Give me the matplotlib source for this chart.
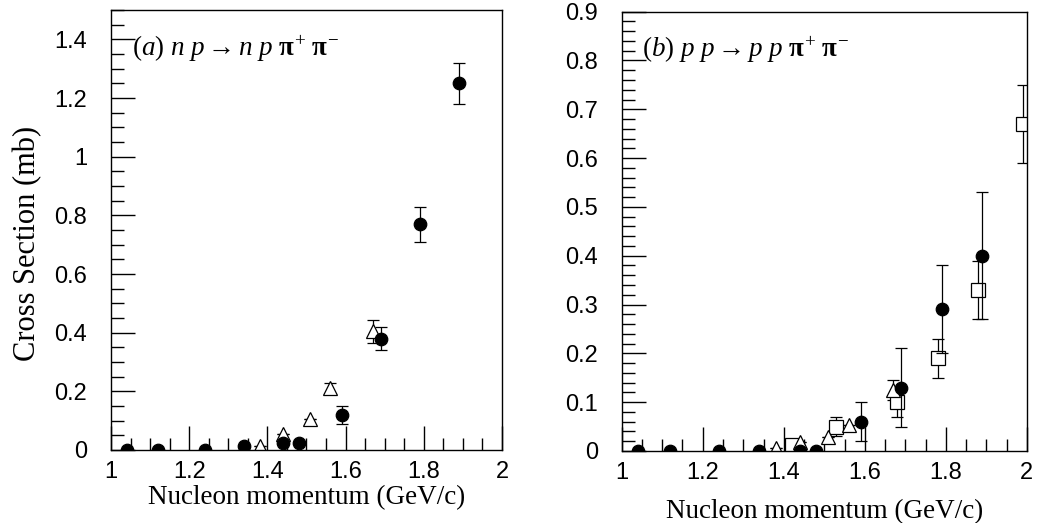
import matplotlib
matplotlib.use("Agg")
import matplotlib.pyplot as plt
from matplotlib.ticker import MultipleLocator, FuncFormatter

plt.rcParams['mathtext.fontset'] = 'custom'
plt.rcParams['mathtext.rm'] = 'Liberation Serif'
plt.rcParams['mathtext.it'] = 'Liberation Serif:italic'
plt.rcParams['mathtext.bf'] = 'Liberation Serif:bold'
plt.rcParams['font.family'] = ['Liberation Sans', 'DejaVu Sans']

# ---- panel (a): n p -> n p pi+ pi- ----
a_circ_x = [1.04, 1.12, 1.24, 1.34, 1.44, 1.48, 1.59, 1.69, 1.79, 1.89]
a_circ_y = [0.0, 0.0, 0.0, 0.013, 0.023, 0.023, 0.12, 0.38, 0.77, 1.25]
a_circ_e = [0.0, 0.0, 0.0, 0.0, 0.0, 0.0, 0.03, 0.04, 0.06, 0.07]
a_tri_x = [1.38, 1.44, 1.51, 1.56, 1.67]
a_tri_y = [0.012, 0.055, 0.105, 0.21, 0.405]
a_tri_e = [0.0, 0.0, 0.0, 0.02, 0.04]

# ---- panel (b): p p -> p p pi+ pi- ----
b_circ_x = [1.04, 1.12, 1.24, 1.34, 1.44, 1.48, 1.59, 1.69, 1.79, 1.89]
b_circ_y = [0.0, 0.0, 0.0, 0.0, 0.0, 0.0, 0.06, 0.13, 0.29, 0.40]
b_circ_e = [0.0, 0.0, 0.0, 0.0, 0.0, 0.0, 0.04, 0.08, 0.09, 0.13]
b_tri_x = [1.38, 1.44, 1.51, 1.56, 1.67]
b_tri_y = [0.006, 0.019, 0.028, 0.053, 0.125]
b_tri_e = [0.0, 0.0, 0.0, 0.0, 0.02]
b_sq_x = [1.42, 1.53, 1.68, 1.78, 1.88, 1.99]
b_sq_y = [0.012, 0.05, 0.10, 0.19, 0.33, 0.67]
b_sq_e = [0.01, 0.02, 0.03, 0.04, 0.06, 0.08]

xlabel = "Nucleon momentum (GeV/c)"
ylabel = "Cross Section (mb)"
title_a = r'$\mathit{(a)\ n\ p} \rightarrow \mathit{n\ p}\ \mathbf{\pi}^{+}\ \mathbf{\pi}^{-}$'
title_b = r'$\mathit{(b)\ p\ p} \rightarrow \mathit{p\ p}\ \mathbf{\pi}^{+}\ \mathbf{\pi}^{-}$'

fig = plt.figure(figsize=(10.51, 5.23), dpi=100)
axa = fig.add_axes([0.1056, 0.1396, 0.372, 0.841])
axb = fig.add_axes([0.5915, 0.1377, 0.3856, 0.840])

def draw(ax, x, y, e, marker, fill):
    ax.errorbar(x, y, yerr=e, fmt=marker, ms=9 if marker == 'o' else 10,
                mfc='black' if fill else 'white', mec='black', mew=0.9,
                ecolor='black', elinewidth=0.9, capsize=4, capthick=0.9,
                zorder=3 if fill else 2)

draw(axa, a_tri_x, a_tri_y, a_tri_e, '^', False)
draw(axa, a_circ_x, a_circ_y, a_circ_e, 'o', True)
draw(axb, b_sq_x, b_sq_y, b_sq_e, 's', False)
draw(axb, b_tri_x, b_tri_y, b_tri_e, '^', False)
draw(axb, b_circ_x, b_circ_y, b_circ_e, 'o', True)

fmt = FuncFormatter(lambda v, p: f"{round(v, 6):g}")
for ax, ymax, ymaj, ymin in [(axa, 1.5, 0.2, 0.05), (axb, 0.9, 0.1, 0.02)]:
    ax.set_xlim(1, 2)
    ax.set_ylim(0, ymax)
    ax.xaxis.set_major_locator(MultipleLocator(0.2))
    ax.xaxis.set_minor_locator(MultipleLocator(0.05))
    ax.yaxis.set_major_locator(MultipleLocator(ymaj))
    ax.yaxis.set_minor_locator(MultipleLocator(ymin))
    ax.xaxis.set_major_formatter(fmt)
    ax.yaxis.set_major_formatter(fmt)
    ax.tick_params(which='both', direction='in', top=False, right=False,
                   width=1, color='black', labelsize=17)
    ax.tick_params(which='major', length=17)
    ax.tick_params(which='minor', length=9)
    ax.tick_params(axis='y', which='major', pad=17)
    ax.tick_params(axis='x', which='major', pad=8)
    for s in ax.spines.values():
        s.set_linewidth(1)
    ax.set_xlabel(xlabel, family='Liberation Serif', fontsize=19.5)

axa.xaxis.set_label_coords(0.5, -0.08)
axb.xaxis.set_label_coords(0.5, -0.11)
axa.set_ylabel(ylabel, family='Liberation Serif', fontsize=22)
axa.yaxis.set_label_coords(-0.175, 0.47)

axa.text(0.055, 0.912, title_a, transform=axa.transAxes, fontsize=19.5,
         va='center', ha='left')
axb.text(0.05, 0.912, title_b, transform=axb.transAxes, fontsize=19.5,
         va='center', ha='left')

fig.savefig("out.png", dpi=100)
